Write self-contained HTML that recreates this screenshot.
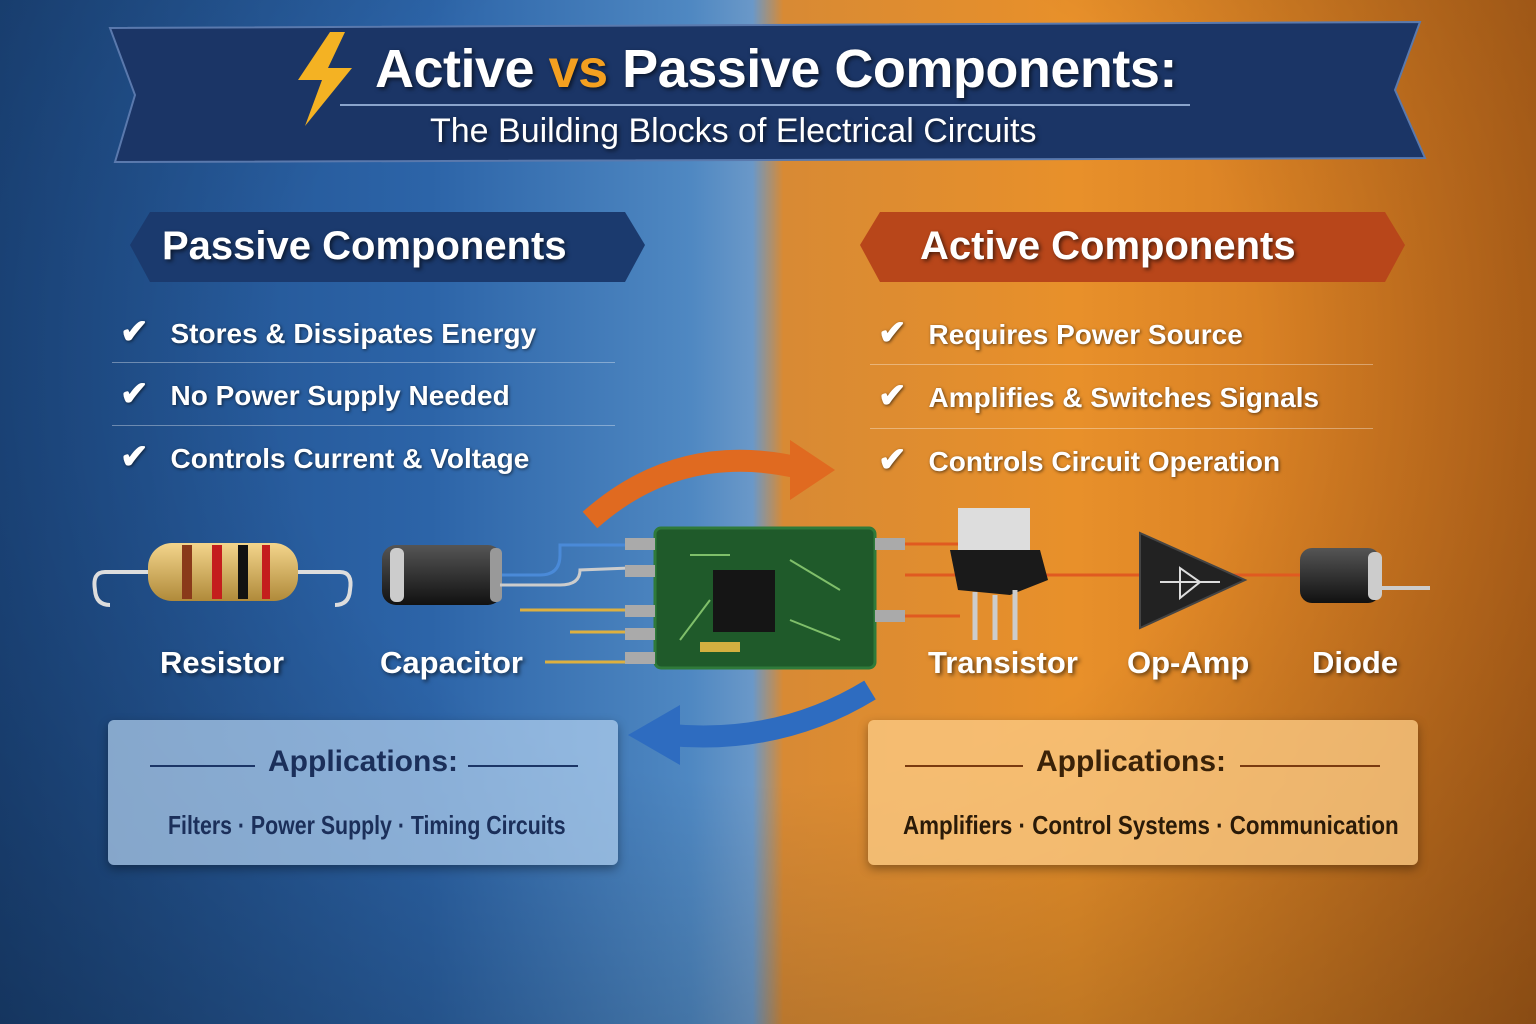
<!DOCTYPE html>
<html><head><meta charset="utf-8"><style>
*{margin:0;padding:0;box-sizing:border-box}
body{width:1536px;height:1024px;overflow:hidden;position:relative;font-family:"Liberation Sans",sans-serif;
background:linear-gradient(90deg,#1e4c88 0%,#2c64a8 28%,#4f88c2 45%,#6a98c8 49%,#d88a34 51%,#e8902a 70%,#c46c1c 100%);}
.abs{position:absolute}
.t{color:#fff;font-weight:bold;text-shadow:2px 2px 4px rgba(0,0,0,.6)}
.chk{position:absolute;font-size:28px;color:#fff;font-weight:bold;text-shadow:1px 1px 3px rgba(0,0,0,.6)}
.chk span{font-size:34px;margin-right:22px}
.sep{position:absolute;height:1px;background:rgba(255,255,255,.35)}
.lbl{position:absolute;font-size:31px;color:#fff;font-weight:bold;text-shadow:2px 2px 4px rgba(0,0,0,.6)}
</style></head><body>
<div class="abs" style="left:0;top:0;width:1536px;height:1024px;background:radial-gradient(ellipse at 50% 35%,rgba(0,0,0,0) 45%,rgba(0,0,0,.3) 100%)"></div>
<svg class="abs" style="left:0;top:0" width="1536" height="200">
<polygon points="110,28 1420,22 1395,90 1425,158 115,162 135,95" fill="#1b3566" stroke="#5a79ad" stroke-width="2"/>
<line x1="340" y1="105" x2="1190" y2="105" stroke="#8aa4cc" stroke-width="2"/>
<polygon points="330,32 298,80 322,80 305,126 352,68 328,68 345,32" fill="#f4b223"/>
</svg>
<div class="abs t" style="left:375px;top:38px;font-size:54px;letter-spacing:-0.5px">Active <span style="color:#f4a020">vs</span> Passive Components:</div>
<div class="abs t" style="left:430px;top:112px;font-size:34px;font-weight:normal">The Building Blocks of Electrical Circuits</div>
<svg class="abs" style="left:0;top:200px" width="1536" height="100">
<polygon points="150,12 625,12 645,45 625,82 150,82 130,45" fill="#1b3a6e"/>
<polygon points="880,12 1385,12 1405,45 1385,82 880,82 860,45" fill="#b8461a"/>
</svg>
<div class="abs t" style="left:162px;top:224px;font-size:40px">Passive Components</div>
<div class="abs t" style="left:920px;top:224px;font-size:40px">Active Components</div>
<div class="chk" style="left:120px;top:312px"><span>✔</span>Stores &amp; Dissipates Energy</div>
<div class="sep" style="left:112px;top:362px;width:503px"></div>
<div class="chk" style="left:120px;top:374px"><span>✔</span>No Power Supply Needed</div>
<div class="sep" style="left:112px;top:425px;width:503px"></div>
<div class="chk" style="left:120px;top:437px"><span>✔</span>Controls Current &amp; Voltage</div>
<div class="chk" style="left:878px;top:313px"><span>✔</span>Requires Power Source</div>
<div class="sep" style="left:870px;top:364px;width:503px"></div>
<div class="chk" style="left:878px;top:376px"><span>✔</span>Amplifies &amp; Switches Signals</div>
<div class="sep" style="left:870px;top:428px;width:503px"></div>
<div class="chk" style="left:878px;top:440px"><span>✔</span>Controls Circuit Operation</div>
<svg class="abs" style="left:0;top:0" width="1536" height="1024">
<defs>
<linearGradient id="res" x1="0" y1="0" x2="0" y2="1"><stop offset="0" stop-color="#f3d58c"/><stop offset="1" stop-color="#b08a3a"/></linearGradient>
<linearGradient id="blk" x1="0" y1="0" x2="0" y2="1"><stop offset="0" stop-color="#555"/><stop offset="1" stop-color="#111"/></linearGradient>
</defs>
<path d="M590,520 Q680,440 800,468" stroke="#e06a20" stroke-width="22" fill="none"/>
<polygon points="790,440 835,470 790,500" fill="#e06a20"/>
<path d="M870,690 Q780,745 670,735" stroke="#2e6cc0" stroke-width="22" fill="none"/>
<polygon points="680,705 628,735 680,765" fill="#2e6cc0"/>
<path d="M150,572 L105,572 Q92,572 95,590 Q96,605 110,605" stroke="#ddd" stroke-width="4" fill="none"/>
<path d="M295,572 L340,572 Q353,572 350,590 Q349,605 335,605" stroke="#ddd" stroke-width="4" fill="none"/>
<rect x="148" y="543" width="150" height="58" rx="24" fill="url(#res)"/>
<rect x="182" y="545" width="10" height="54" fill="#8a3a1a"/>
<rect x="212" y="545" width="10" height="54" fill="#c41d1d"/>
<rect x="238" y="545" width="10" height="54" fill="#111"/>
<rect x="262" y="545" width="8" height="54" fill="#c41d1d"/>
<rect x="382" y="545" width="120" height="60" rx="14" fill="url(#blk)"/>
<rect x="390" y="548" width="14" height="54" rx="6" fill="#ccc"/>
<rect x="490" y="548" width="12" height="54" rx="5" fill="#999"/>
<path d="M502,575 L540,575 Q560,575 560,555 L560,545 L640,545" stroke="#4a8ad8" stroke-width="3" fill="none"/>
<path d="M500,585 L560,585 Q580,585 580,570 L630,568" stroke="#ccc" stroke-width="3" fill="none"/>
<path d="M520,610 L640,610 M570,632 L640,632 M545,662 L640,662" stroke="#ddb040" stroke-width="3" fill="none"/>
<rect x="655" y="528" width="220" height="140" rx="6" fill="#1f5a2a" stroke="#2f7a3a" stroke-width="3"/>
<rect x="713" y="570" width="62" height="62" fill="#151515"/>
<path d="M690,555 L730,555 M790,560 L840,590 M790,620 L840,640 M680,640 L710,600" stroke="#7fbf6a" stroke-width="2" fill="none"/>
<rect x="700" y="642" width="40" height="10" fill="#d4b040"/>
<rect x="625" y="538" width="30" height="12" fill="#aaa"/>
<rect x="625" y="565" width="30" height="12" fill="#aaa"/>
<rect x="625" y="605" width="30" height="12" fill="#aaa"/>
<rect x="625" y="628" width="30" height="12" fill="#aaa"/>
<rect x="625" y="652" width="30" height="12" fill="#aaa"/>
<rect x="875" y="538" width="30" height="12" fill="#aaa"/>
<rect x="875" y="610" width="30" height="12" fill="#aaa"/>
<path d="M905,544 L960,544 M905,616 L960,616 M905,575 L1300,575" stroke="#e05a20" stroke-width="3" fill="none"/>
<rect x="958" y="508" width="72" height="45" fill="#ddd"/>
<polygon points="950,550 1040,550 1048,580 1010,595 958,590" fill="#1a1a1a"/>
<path d="M975,592 L975,640 M995,595 L995,640 M1015,590 L1015,640" stroke="#ccc" stroke-width="5"/>
<polygon points="1140,533 1140,628 1245,580" fill="#222" stroke="#444" stroke-width="2"/>
<path d="M1160,582 L1220,582 M1180,568 L1180,598 L1200,582 Z" stroke="#ddd" stroke-width="2" fill="none"/>
<rect x="1300" y="548" width="80" height="55" rx="12" fill="url(#blk)"/>
<rect x="1368" y="552" width="14" height="48" rx="6" fill="#ccc"/>
<path d="M1382,588 L1430,588" stroke="#ccc" stroke-width="4"/>
</svg>
<div class="lbl" style="left:160px;top:645px">Resistor</div>
<div class="lbl" style="left:380px;top:645px">Capacitor</div>
<div class="lbl" style="left:928px;top:645px">Transistor</div>
<div class="lbl" style="left:1127px;top:645px">Op-Amp</div>
<div class="lbl" style="left:1312px;top:645px">Diode</div>
<div class="abs" style="left:108px;top:720px;width:510px;height:145px;background:rgba(180,210,240,.7);border-radius:6px;box-shadow:0 4px 10px rgba(0,0,0,.35)"></div>
<div class="abs" style="left:150px;top:765px;width:105px;height:2px;background:#1b3566"></div>
<div class="abs" style="left:468px;top:765px;width:110px;height:2px;background:#1b3566"></div>
<div class="abs" style="left:268px;top:745px;font-size:30px;font-weight:bold;color:#1b2f5a">Applications:</div>
<div class="abs" style="left:168px;top:810px;font-size:26px;font-weight:bold;color:#1b2f5a;transform:scaleX(.82);transform-origin:0 0;white-space:nowrap">Filters · Power Supply · Timing Circuits</div>
<div class="abs" style="left:868px;top:720px;width:550px;height:145px;background:rgba(250,200,130,.8);border-radius:6px;box-shadow:0 4px 10px rgba(0,0,0,.35)"></div>
<div class="abs" style="left:905px;top:765px;width:118px;height:2px;background:#7a3a10"></div>
<div class="abs" style="left:1240px;top:765px;width:140px;height:2px;background:#7a3a10"></div>
<div class="abs" style="left:1036px;top:745px;font-size:30px;font-weight:bold;color:#3a2208">Applications:</div>
<div class="abs" style="left:903px;top:810px;font-size:26px;font-weight:bold;color:#2a1a08;transform:scaleX(.86);transform-origin:0 0;white-space:nowrap">Amplifiers · Control Systems · Communication</div>
</body></html>
